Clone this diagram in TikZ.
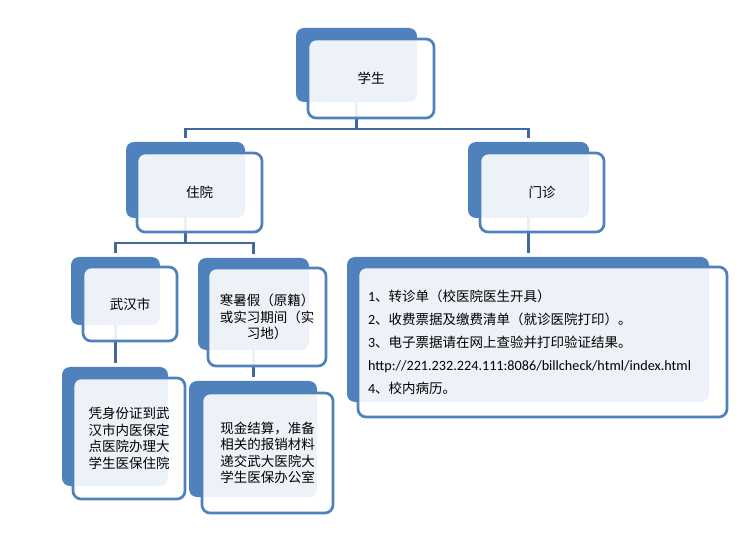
\documentclass[tikz,border=0pt]{standalone}
\usepackage{fontspec}
\setmainfont{Noto Sans CJK SC}
\newfontfamily\lat{Carlito}
\definecolor{boxblue}{HTML}{4F81BD}
\definecolor{lineblue}{HTML}{41699B}
\pgfdeclarelayer{bg}
\pgfsetlayers{bg,main}
\tikzset{
 back/.style={draw=none, fill=boxblue, rounded corners=8pt, inner sep=0pt},
 front/.style={draw=boxblue, line width=2.7pt, fill=white, fill opacity=0.9, text opacity=1,
   rounded corners=8pt, inner sep=0pt, font=\fontsize{13.5}{16.5}\selectfont, align=center, text=black},
 conn/.style={draw=lineblue, line width=2.8pt, shorten >=4pt},
}
\begin{document}
\begin{tikzpicture}[x=1pt,y=-1pt]
\useasboundingbox (0,0) rectangle (742,537);
% top
\node[back, minimum width=121pt, minimum height=74pt] (sB) at (356.5,65) {};
\node[front, minimum width=126pt, minimum height=79pt] (s) at (371,78.5) {学生};
% level 2
\node[back, minimum width=119pt, minimum height=76pt] (zyB) at (185.5,180) {};
\node[front, minimum width=125pt, minimum height=79pt] (zy) at (199.5,192.5) {住院};
\node[back, minimum width=121pt, minimum height=76pt] (mzB) at (528.5,180) {};
\node[front, minimum width=124pt, minimum height=79pt] (mz) at (542,192.5) {门诊};
% level 3
\node[back, minimum width=89pt, minimum height=68pt] (whB) at (115.5,291) {};
\node[front, minimum width=94pt, minimum height=74pt] (wh) at (130,304) {武汉市};
\node[back, minimum width=111pt, minimum height=92pt] (hsB) at (253.5,304) {};
\node[front, minimum width=118pt, minimum height=98pt] (hs) at (267,317) {寒暑假（原籍）\\或实习期间（实\\习地）};
% level 4
\node[back, minimum width=106pt, minimum height=119pt] (pzB) at (115,426.5) {};
\node[front, minimum width=112pt, minimum height=121pt] (pz) at (129,438.5) {凭身份证到武\\汉市内医保定\\点医院办理大\\学生医保住院};
\node[back, minimum width=128pt, minimum height=116pt] (xjB) at (253,439) {};
\node[front, minimum width=131pt, minimum height=120pt] (xj) at (267.5,453) {现金结算，准备\\相关的报销材料\\递交武大医院大\\学生医保办公室};
% list
\node[back, minimum width=362pt, minimum height=145pt] (lsB) at (528,329.5) {};
\node[front, minimum width=369pt, minimum height=150pt, inner xsep=10pt, text width=349pt, align=left,
  font=\fontsize{13.5}{23}\selectfont] (ls) at (542.5,342)
 {{\lat\fontsize{14}{23}\selectfont 1}、转诊单（校医院医生开具）\\
  {\lat\fontsize{14}{23}\selectfont 2}、收费票据及缴费清单（就诊医院打印）。\\
  {\lat\fontsize{14}{23}\selectfont 3}、电子票据请在网上查验并打印验证结果。\\
  {\lat\fontsize{14.2}{23}\selectfont http://221.232.224.111:8086/billcheck/html/index.html}\\
  {\lat\fontsize{14}{23}\selectfont 4}、校内病历。};
% connectors
\begin{pgfonlayer}{bg}
\coordinate (j1) at (356.5,129);
\coordinate (j2) at (185.5,243);
\draw[conn] (sB.center) -- (j1) -| (zyB.north);
\draw[conn] (j1) -| (mzB.north);
\draw[conn] (zyB.center) -- (j2) -| (whB.north);
\draw[conn] (j2) -| (hsB.north);
\draw[conn] (whB.center) -- (whB.center |- pzB.north);
\draw[conn] (hsB.center) -- (hsB.center |- xjB.north);
\draw[conn] (mzB.center) -- (mzB.center |- lsB.north);
\end{pgfonlayer}
\end{tikzpicture}
\end{document}
